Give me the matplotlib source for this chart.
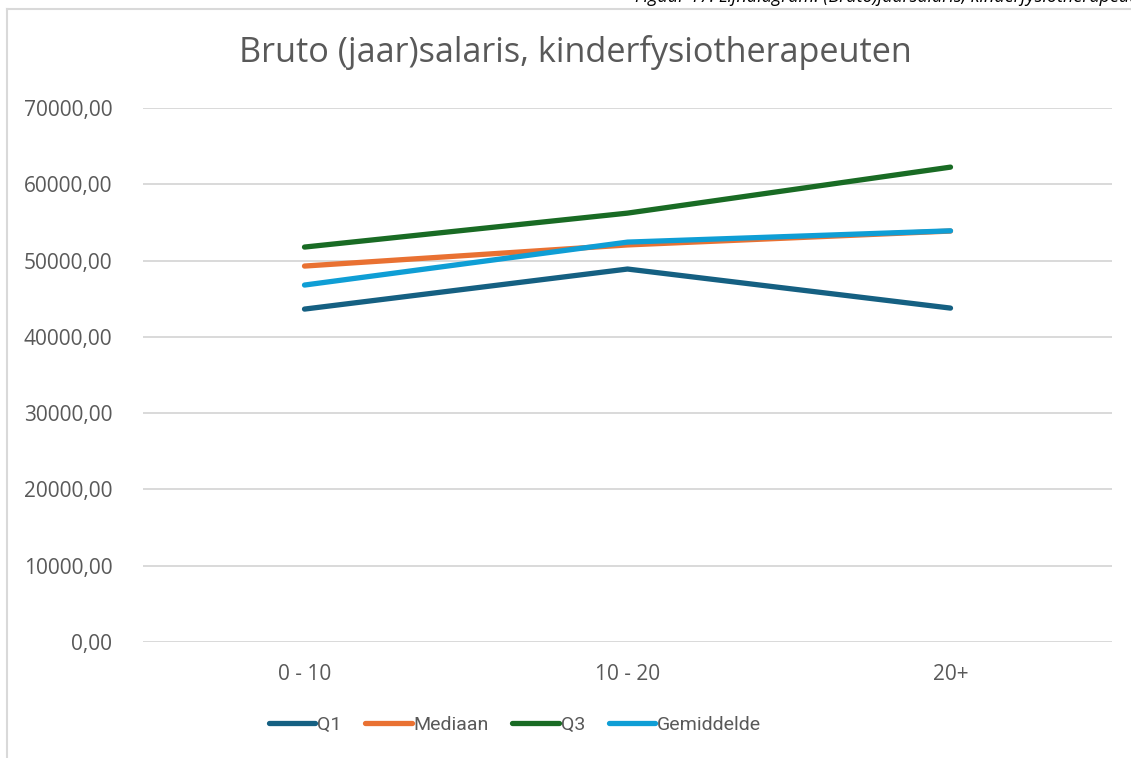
import matplotlib.pyplot as plt
from matplotlib.ticker import FuncFormatter

plt.rcParams['font.family'] = ['Open Sans', 'DejaVu Sans']

categories = ['0 - 10', '10 - 20', '20+']
q1 = [43640, 48890, 43770]
mediaan = [49280, 52050, 53870]
q3 = [51770, 56220, 62250]
gemiddelde = [46790, 52420, 53900]

series = [('Q1', q1, '#156082'), ('Mediaan', mediaan, '#E97132'),
          ('Q3', q3, '#196B24'), ('Gemiddelde', gemiddelde, '#0F9ED5')]

fig = plt.figure(figsize=(11.31, 7.58), dpi=100)
ax = fig.add_axes([143 / 1131, 1 - 642 / 758, (1112 - 143) / 1131, (642 - 108) / 758])

x = range(len(categories))
for name, vals, color in series:
    ax.plot(x, vals, color=color, lw=3.8, solid_capstyle='round', solid_joinstyle='round', label=name)

ax.set_xlim(-0.5, 2.5)
ax.set_ylim(0, 70000)
ax.set_yticks(range(0, 70001, 10000))
ax.yaxis.set_major_formatter(FuncFormatter(lambda v, p: f'{v:.2f}'.replace('.', ',')))
ax.set_xticks(list(x))
ax.set_xticklabels(categories)
ax.tick_params(length=0, labelsize=15, labelcolor='#595959')
ax.tick_params(axis='y', pad=22)
ax.tick_params(axis='x', pad=16)
ax.grid(axis='y', color='#d9d9d9', lw=1.4)
ax.set_axisbelow(True)
for s in ax.spines.values():
    s.set_visible(False)

fig.text(575 / 1131, 1 - 52 / 758, 'Bruto (jaar)salaris, kinderfysiotherapeuten', ha='center', va='center',
         fontsize=24.7, color='#595959')

# chart frame
fig.add_artist(plt.Line2D([7 / 1131, 7 / 1131], [0, 1 - 9 / 758], color='#d9d9d9', lw=1.5))
fig.add_artist(plt.Line2D([7 / 1131, 1], [1 - 9 / 758, 1 - 9 / 758], color='#d9d9d9', lw=1.5))

# caption above the chart, cut off by the page edge
fig.text(635 / 1131, 1 - 2 / 758, 'Figuur 17: Lijndiagram: (Bruto)jaarsalaris, kinderfysiotherapeuten',
         ha='left', va='baseline', fontsize=13, style='italic', color='#000000')

leg = fig.legend(loc='center', bbox_to_anchor=(515 / 1131, 1 - 725 / 758), ncol=4, frameon=False,
                 prop={'family': 'Roboto', 'size': 14}, handlelength=2.4, handletextpad=0.1,
                 columnspacing=1.2)
for t in leg.get_texts():
    t.set_color('#595959')

fig.savefig('out.png', dpi=100)
